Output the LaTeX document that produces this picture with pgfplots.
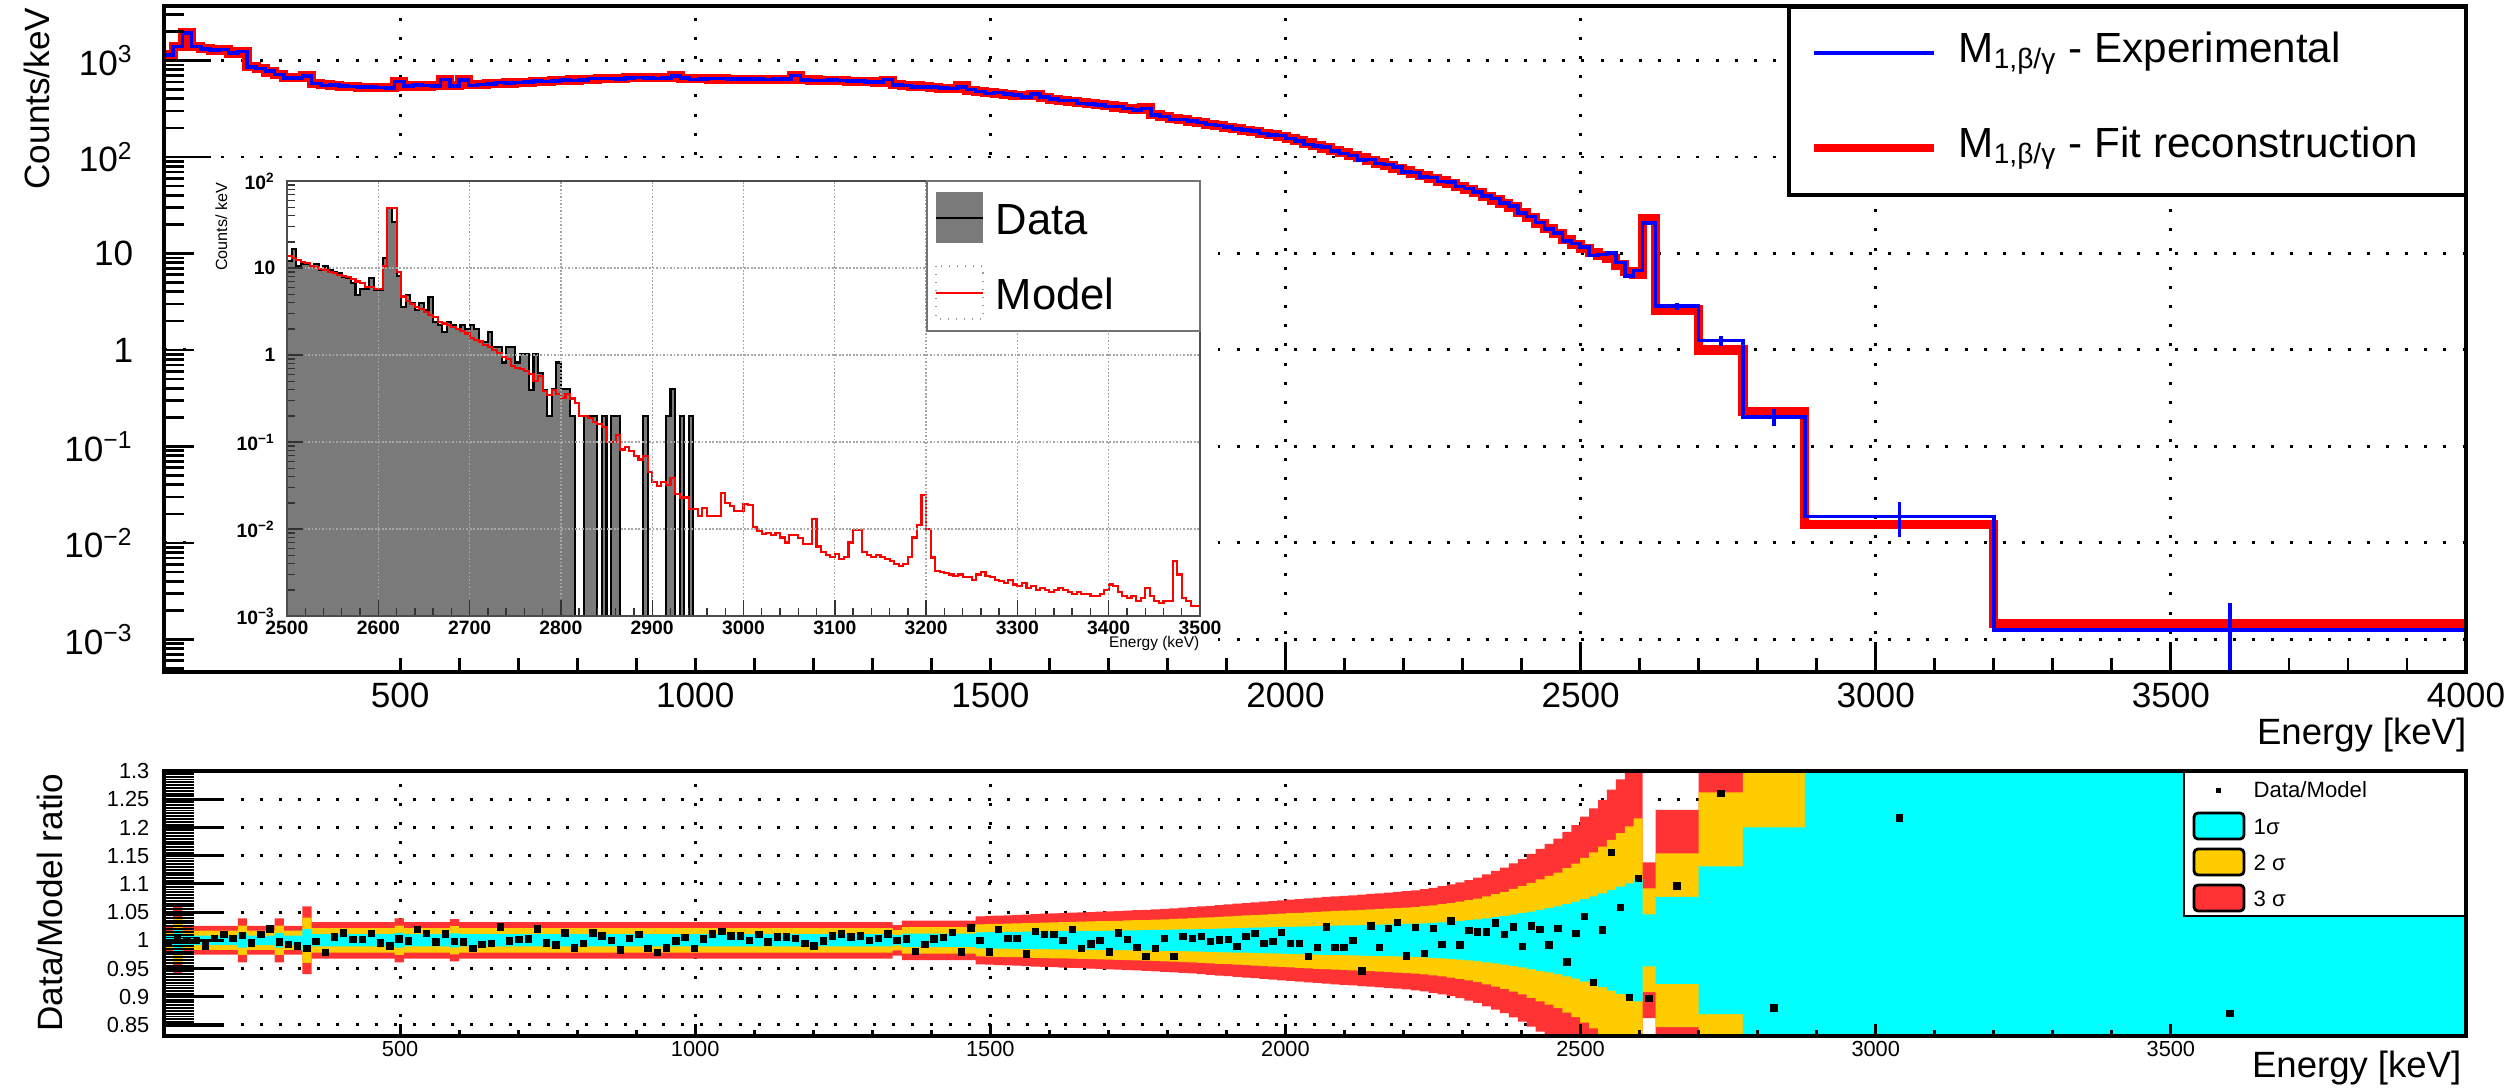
\documentclass[border=0pt]{standalone}
\usepackage{fontspec}
\setmainfont{Liberation Sans}
\usepackage{pgfplots}
\pgfplotsset{compat=1.18}
\usepackage{pgfplotstable}
\usepgfplotslibrary{fillbetween}

\definecolor{expblue}{RGB}{0,0,255}
\definecolor{fitred}{RGB}{255,0,0}
\definecolor{sigone}{RGB}{0,255,255}
\definecolor{sigtwo}{RGB}{255,204,0}
\definecolor{sigthree}{RGB}{255,51,51}
\definecolor{datagray}{RGB}{122,122,122}

\newcommand{\fs}[1]{\fontsize{#1}{#1}\selectfont}

\pgfplotsset{
  dotgrid/.style={grid=major,
    major grid style={black, line width=0.85pt, dash pattern=on 0.85pt off 4.6pt}},
}

% Spectrum bins: lower edge (keV), fitted model (counts/keV),
% data/model ratio and relative 1-sigma uncertainty of the model.
\pgfplotstableread{
E model ratio sig
100.0 1140 0.9955 0.0080
115.6 1390 1.0015 0.0200
131.3 1940 1.0000 0.0085
146.9 1390 1.0000 0.0085
162.5 1330 0.9900 0.0085
178.1 1285 1.0030 0.0085
193.8 1285 1.0100 0.0085
209.4 1190 1.0030 0.0085
225.0 1230 1.0090 0.0130
240.6 863 0.9955 0.0085
256.3 820 1.0100 0.0085
271.9 760 1.0200 0.0085
287.5 720 0.9970 0.0130
303.1 664 0.9930 0.0085
318.8 664 0.9900 0.0085
334.4 700 0.9850 0.0200
350.0 580 0.9980 0.0108
365.6 565 0.9780 0.0108
381.3 555 1.0060 0.0108
396.9 540 1.0130 0.0108
412.5 535 1.0015 0.0108
428.1 530 1.0015 0.0108
443.8 527 1.0120 0.0108
459.4 525 0.9955 0.0108
475.0 526 0.9900 0.0108
490.6 602 1.0025 0.0130
506.3 545 0.9985 0.0108
521.9 545 1.0190 0.0108
537.5 545 1.0120 0.0108
553.1 548 0.9970 0.0108
568.8 628 1.0115 0.0108
584.4 548 0.9980 0.0125
600.0 628 0.9970 0.0108
615.6 560 0.9850 0.0108
631.3 565 0.9930 0.0108
646.9 572 0.9940 0.0108
662.5 578 1.0235 0.0108
678.1 584 0.9985 0.0108
693.8 590 1.0015 0.0108
709.4 595 1.0025 0.0108
725.0 600 1.0200 0.0108
740.6 607 0.9955 0.0108
756.3 615 0.9915 0.0108
771.9 622 1.0130 0.0108
787.5 628 0.9865 0.0108
803.1 634 0.9940 0.0108
818.8 640 1.0130 0.0108
834.4 645 1.0075 0.0108
850.0 650 1.0000 0.0108
865.6 655 0.9825 0.0108
881.3 660 1.0030 0.0108
896.9 663 1.0105 0.0108
912.5 665 0.9850 0.0108
928.1 666 0.9780 0.0108
943.8 667 0.9865 0.0108
959.4 690 0.9985 0.0108
975.0 655 1.0055 0.0108
990.6 648 0.9850 0.0108
1006.3 645 1.0025 0.0108
1021.9 644 1.0115 0.0108
1037.5 643 1.0160 0.0108
1053.1 642 1.0075 0.0108
1068.8 641 1.0075 0.0108
1084.4 640 1.0000 0.0108
1100.0 639 1.0105 0.0108
1115.6 638 0.9970 0.0108
1131.3 637 1.0060 0.0108
1146.9 636 1.0060 0.0108
1162.5 700 1.0030 0.0108
1178.1 632 0.9940 0.0108
1193.8 628 0.9900 0.0108
1209.4 624 0.9985 0.0108
1225.0 620 1.0075 0.0108
1240.6 616 1.0115 0.0108
1256.3 612 1.0060 0.0108
1271.9 607 1.0075 0.0108
1287.5 602 1.0000 0.0108
1303.1 597 1.0030 0.0108
1318.8 625 1.0115 0.0108
1334.4 560 1.0000 0.0090
1350.0 552 1.0024 0.0117
1365.6 545 0.9804 0.0117
1381.3 537 0.9923 0.0117
1396.9 528 1.0020 0.0117
1412.5 518 1.0053 0.0117
1428.1 508 1.0142 0.0117
1443.8 545 0.9792 0.0117
1459.4 490 1.0219 0.0117
1475.0 475 1.0000 0.0142
1490.6 465 0.9792 0.0144
1506.3 456 1.0190 0.0146
1521.9 447 1.0030 0.0148
1537.5 438 1.0030 0.0150
1553.1 430 0.9757 0.0152
1568.8 445 1.0160 0.0155
1584.4 412 1.0100 0.0157
1600.0 396 1.0100 0.0159
1615.6 386 1.0000 0.0161
1631.3 376 1.0190 0.0163
1646.9 366 0.9850 0.0165
1662.5 357 0.9935 0.0167
1678.1 348 1.0000 0.0169
1693.8 339 0.9792 0.0171
1709.4 330 1.0130 0.0173
1725.0 318 1.0012 0.0176
1740.6 310 0.9875 0.0178
1756.3 326 0.9715 0.0180
1771.9 275 0.9850 0.0183
1787.5 262 1.0030 0.0186
1803.1 253 0.9715 0.0189
1818.8 244 1.0071 0.0193
1834.4 235 1.0030 0.0196
1850.0 226.6 1.0064 0.0200
1865.1 218.7 0.9975 0.0204
1880.2 211.1 1.0005 0.0208
1895.3 203.7 1.0017 0.0212
1910.4 196.6 0.9886 0.0216
1925.5 189.7 1.0064 0.0220
1940.6 183.0 1.0117 0.0224
1955.7 176.6 0.9945 0.0228
1970.8 170.4 0.9975 0.0232
1985.9 164.5 1.0135 0.0236
2001.0 156.7 0.9945 0.0240
2016.1 147.8 0.9945 0.0244
2031.2 139.5 0.9708 0.0248
2046.3 131.6 0.9868 0.0252
2061.4 124.1 1.0236 0.0256
2076.5 117.1 0.9868 0.0260
2091.6 110.5 0.9868 0.0263
2106.7 104.2 1.0000 0.0266
2121.8 98.2 0.9453 0.0270
2136.9 92.4 1.0254 0.0274
2152.0 86.8 0.9868 0.0278
2167.1 81.7 1.0206 0.0282
2182.2 76.8 1.0313 0.0286
2197.3 72.2 0.9720 0.0290
2212.4 67.9 1.0224 0.0295
2227.5 63.8 0.9767 0.0302
2242.6 60.0 1.0206 0.0310
2257.7 56.4 0.9928 0.0320
2272.8 53.1 1.0343 0.0330
2287.9 49.9 0.9916 0.0342
2303.0 46.2 1.0177 0.0356
2318.1 42.5 1.0147 0.0370
2333.2 39.0 1.0147 0.0390
2348.3 35.9 1.0310 0.0410
2363.4 33.0 1.0105 0.0430
2378.5 30.3 1.0236 0.0455
2393.6 26.6 0.9886 0.0480
2408.7 23.5 1.0253 0.0510
2423.8 20.6 1.0194 0.0540
2438.9 18.2 0.9920 0.0570
2454.0 16.0 1.0212 0.0600
2469.1 14.0 0.9613 0.0640
2484.2 12.5 1.0117 0.0680
2499.3 11.2 1.0420 0.0730
2514.4 10.3 0.9257 0.0780
2529.5 9.6 1.0182 0.0830
2544.6 8.8 1.1558 0.0890
2559.7 7.6 1.0586 0.0950
2574.8 6.5 0.8990 0.1010
2589.9 6.0 1.1096 0.1080
2605.0 23.2 0.8970 0.0460
2627.0 2.6 1.0960 0.0770
2700.0 1.0 1.2600 0.1310
2775.0 0.23 0.8800 0.2000
2880.0 0.0155 1.2170 0.5000
3200.0 0.00145 0.8700 1.0000
4000.0 0.00145 0.8700 1.0000
}\bins

% Wide bins above 2.6 MeV: centre, data/model, measured rate and its error
\pgfplotstableread{
c ratio exp err
2616.0 0.897 20.8 0.9
2663.5 1.096 2.85 0.25
2737.5 1.260 1.26 0.15
2827.5 0.880 0.202 0.04
3040.0 1.217 0.0189 0.0075
3600.0 0.870 0.00126 0.0011
}\widebins

% Inset: 5 keV data histogram (empty bins as 1e-6)
\pgfplotstableread{
E v
2500 1e-6
2500 12.0
2505 16.4
2510 10.4
2515 11.0
2520 11.0
2525 10.6
2530 11.0
2535 9.6
2540 10.4
2545 9.4
2550 9.0
2555 8.7
2560 7.9
2565 7.6
2570 6.7
2575 4.9
2580 5.8
2585 5.8
2590 7.6
2595 5.6
2600 5.6
2605 12.9
2610 48.5
2615 34.0
2620 8.1
2625 3.6
2630 4.9
2635 4.0
2640 3.3
2645 4.0
2650 3.3
2655 4.6
2660 2.4
2665 2.2
2670 1.82
2675 2.4
2680 2.2
2685 2.0
2690 2.2
2695 2.0
2700 2.2
2705 2.0
2710 1.4
2715 1.4
2720 1.82
2725 1.25
2730 1.25
2735 0.82
2740 1.25
2745 1.25
2750 0.82
2755 1.02
2760 1.02
2765 0.40
2770 1.02
2775 0.62
2780 0.40
2785 0.20
2790 0.41
2795 0.82
2800 0.41
2805 0.41
2810 0.20
2815 1e-6
2820 1e-6
2825 0.20
2830 0.20
2835 0.20
2840 1e-6
2845 0.20
2850 1e-6
2855 0.20
2860 0.20
2865 1e-6
2870 1e-6
2875 1e-6
2880 1e-6
2885 1e-6
2890 0.20
2895 1e-6
2900 1e-6
2905 1e-6
2910 1e-6
2915 0.20
2920 0.41
2925 1e-6
2930 0.20
2935 1e-6
2940 0.20
2945 1e-6
}\insetdata

% Inset: 5 keV model histogram
\pgfplotstableread{
E v
2500 13.7
2505 12.9
2510 12.3
2515 11.7
2520 11.3
2525 10.6
2530 10.2
2535 9.7
2540 9.5
2545 9.1
2550 8.7
2555 8.4
2560 8.1
2565 7.8
2570 7.4
2575 7.0
2580 6.7
2585 6.1
2590 6.0
2595 5.8
2600 5.7
2605 10.4
2610 48.5
2615 48.5
2620 9.1
2625 4.7
2630 4.2
2635 3.9
2640 3.6
2645 3.4
2650 3.1
2655 2.9
2660 2.76
2665 2.4
2670 2.3
2675 2.2
2680 2.1
2685 1.97
2690 1.9
2695 1.77
2700 1.56
2705 1.5
2710 1.43
2715 1.3
2720 1.25
2725 1.14
2730 1.05
2735 0.94
2740 0.89
2745 0.75
2750 0.71
2755 0.69
2760 0.66
2765 0.60
2770 0.50
2775 0.58
2780 0.39
2785 0.35
2790 0.40
2795 0.36
2800 0.32
2805 0.36
2810 0.316
2815 0.28
2820 0.20
2825 0.20
2830 0.19
2835 0.17
2840 0.16
2845 0.15
2850 0.101
2855 0.101
2860 0.12
2865 0.082
2870 0.088
2875 0.078
2880 0.069
2885 0.063
2890 0.069
2895 0.0456
2900 0.035
2905 0.031
2910 0.035
2915 0.032
2920 0.039
2925 0.025
2930 0.023
2935 0.023
2940 0.017
2945 0.017
2950 0.0142
2955 0.0174
2960 0.0142
2965 0.0142
2970 0.0142
2975 0.0258
2980 0.0198
2985 0.0185
2990 0.016
2995 0.016
3000 0.0195
3005 0.019
3010 0.0105
3015 0.0095
3020 0.0088
3025 0.0090
3030 0.0085
3035 0.0090
3040 0.0080
3045 0.0070
3050 0.0085
3055 0.0085
3060 0.0078
3065 0.0068
3070 0.0068
3075 0.0131
3080 0.0063
3085 0.0055
3090 0.0050
3095 0.0048
3100 0.0052
3105 0.0045
3110 0.0048
3115 0.0070
3120 0.0098
3125 0.0098
3130 0.0055
3135 0.0050
3140 0.0048
3145 0.0050
3150 0.0048
3155 0.0045
3160 0.0043
3165 0.0040
3170 0.0038
3175 0.0040
3180 0.0048
3185 0.0080
3190 0.0110
3195 0.0245
3200 0.0100
3205 0.0047
3210 0.0033
3215 0.0032
3220 0.0031
3225 0.0030
3230 0.0029
3235 0.0030
3240 0.0028
3245 0.0028
3250 0.0026
3255 0.0030
3260 0.0032
3265 0.0029
3270 0.0028
3275 0.0026
3280 0.0025
3285 0.0024
3290 0.0026
3295 0.0023
3300 0.0022
3305 0.0024
3310 0.0021
3315 0.0022
3320 0.0020
3325 0.0021
3330 0.0020
3335 0.0019
3340 0.0020
3345 0.0021
3350 0.0020
3355 0.0019
3360 0.0018
3365 0.0019
3370 0.0018
3375 0.0018
3380 0.0017
3385 0.0017
3390 0.0018
3395 0.0020
3400 0.0023
3405 0.0022
3410 0.0019
3415 0.0017
3420 0.0016
3425 0.0017
3430 0.0015
3435 0.0016
3440 0.0021
3445 0.0017
3450 0.0015
3455 0.0014
3460 0.0015
3465 0.0015
3470 0.0043
3475 0.0030
3480 0.0016
3485 0.0015
3490 0.0013
3495 0.0013
3500 0.0013
}\insetmodel

\begin{document}
\begin{tikzpicture}
\path (0,0) rectangle (251.9mm,-109mm);

% ---------------- upper panel: spectrum ----------------
\begin{axis}[
  at={(16.4mm,-0.6mm)}, anchor=north west,
  scale only axis, width=230.2mm, height=66.6mm,
  xmin=100, xmax=4000, ymode=log, ymin=4.6e-4, ymax=3670,
  xtick={500,1000,...,4000},
  xticklabels={500,1000,1500,2000,2500,3000,3500,4000},
  minor x tick num=4,
  ytick={1e-3,1e-2,1e-1,1,10,100,1000},
  yticklabels={10\textsuperscript{−3},10\textsuperscript{−2},10\textsuperscript{−1},1,10,10\textsuperscript{2},10\textsuperscript{3}},
  ytick style={draw=none},
  tick align=inside, tick pos=left,
  major tick length=3mm, minor tick length=1.4mm,
  every tick/.append style={black, line width=0.8pt},
  dotgrid,
  axis line style={line width=1pt},
  xticklabel style={font=\fs{10}, inner sep=0pt, anchor=north, yshift=-1.0mm},
  yticklabel style={font=\fs{10}, inner sep=0pt, anchor=east, xshift=-3mm},
]
\addplot[fitred, line width=2.6pt, const plot] table[x=E, y=model] {\bins};
\addplot[expblue, line width=1pt, const plot]
  table[x=E, y expr=\thisrow{model}*\thisrow{ratio}] {\bins};
\addplot[draw=none, mark=none,
  error bars/.cd, y dir=both, y explicit, error mark=none,
  error bar style={draw=expblue, line width=1pt, solid}]
  table[x=c, y=exp, y error=err] {\widebins};
\end{axis}
% long y ticks of the upper panel
\begin{axis}[
  at={(16.4mm,-0.6mm)}, anchor=north west,
  scale only axis, width=230.2mm, height=66.6mm,
  xmin=100, xmax=4000, ymode=log, ymin=4.6e-4, ymax=3670,
  xtick=\empty, ytick={1e-3,1e-2,1e-1,1,10,100,1000}, yticklabels={},
  minor ytick={5e-4,6e-4,7e-4,8e-4,9e-4,2e-3,3e-3,4e-3,5e-3,6e-3,7e-3,8e-3,9e-3,
    0.02,0.03,0.04,0.05,0.06,0.07,0.08,0.09,0.2,0.3,0.4,0.5,0.6,0.7,0.8,0.9,
    2,3,4,5,6,7,8,9,20,30,40,50,60,70,80,90,200,300,400,500,600,700,800,900,2000,3000},
  tick align=inside, tick pos=left,
  major tick length=4.7mm, minor tick length=2mm,
  every tick/.append style={black, line width=0.8pt},
  axis line style={line width=1pt},
]
\end{axis}

% legend of the upper panel
\draw[line width=0.9pt, fill=white] (178.9mm,-0.7mm) rectangle (246.6mm,-19.5mm);
\draw[expblue, line width=0.9pt] (181.4mm,-5.3mm) -- (193.4mm,-5.3mm);
\node[anchor=base west, inner sep=0pt, font=\fs{12}] at (195.8mm,-6.2mm)
  {M\textsubscript{1,β/γ} - Experimental};
\draw[fitred, line width=2.2pt] (181.4mm,-14.8mm) -- (193.4mm,-14.8mm);
\node[anchor=base west, inner sep=0pt, font=\fs{12}] at (195.8mm,-15.7mm)
  {M\textsubscript{1,β/γ} - Fit reconstruction};

\node[rotate=90, anchor=base east, inner sep=0pt, font=\fs{10}] at (4.9mm,-0.7mm) {Counts/keV};
\node[anchor=base east, inner sep=0pt, font=\fs{10.4}] at (246.7mm,-74.4mm) {Energy [keV]};

% ---------------- inset: 2.5-3.5 MeV detail ----------------
\fill[white] (19.4mm,-16.5mm) rectangle (121.8mm,-65.8mm);
\begin{axis}[
  at={(28.7mm,-18.1mm)}, anchor=north west,
  scale only axis, width=91.3mm, height=43.5mm,
  xmin=2500, xmax=3500, ymode=log, ymin=1e-3, ymax=100,
  xtick={2500,2600,...,3500},
  xticklabels={2500,2600,2700,2800,2900,3000,3100,3200,3300,3400,3500},
  minor x tick num=4,
  ytick={1e-3,1e-2,1e-1,1,10,100},
  yticklabels={10\textsuperscript{−3},10\textsuperscript{−2},10\textsuperscript{−1},1,10,10\textsuperscript{2}},
  minor ytick={2e-3,3e-3,4e-3,5e-3,6e-3,7e-3,8e-3,9e-3,
    0.02,0.03,0.04,0.05,0.06,0.07,0.08,0.09,0.2,0.3,0.4,0.5,0.6,0.7,0.8,0.9,
    2,3,4,5,6,7,8,9,20,30,40,50,60,70,80,90},
  tick align=inside, tick pos=left,
  major tick length=1.6mm, minor tick length=0.8mm,
  every tick/.append style={black!80, line width=0.4pt},
  grid=major, major grid style={black!35, line width=0.35pt, dash pattern=on 0.5pt off 0.5pt},
  axis line style={black!70, line width=0.5pt},
  axis on top,
  xticklabel style={font=\fs{5.5}\bfseries, inner sep=0pt, anchor=north, yshift=-0.4mm},
  yticklabel style={font=\fs{5.5}\bfseries, inner sep=0pt, anchor=east, xshift=-1.1mm},
]
\addplot[fill=datagray, draw=black, line width=0.6pt, const plot] table[x=E, y=v] {\insetdata};
\addplot[fitred, line width=0.6pt, const plot] table[x=E, y=v] {\insetmodel};
\end{axis}
\draw[black!55, line width=0.4pt, fill=white] (92.7mm,-18.1mm) rectangle (120.0mm,-33.1mm);
\fill[datagray] (93.6mm,-19.2mm) rectangle (98.3mm,-24.3mm);
\draw[black, line width=0.6pt] (93.6mm,-21.8mm) -- (98.3mm,-21.8mm);
\node[anchor=base west, inner sep=0pt, font=\fs{12.4}] at (99.5mm,-23.4mm) {Data};
\draw[black!40, line width=0.3pt, dotted] (93.6mm,-26.6mm) rectangle (98.3mm,-31.9mm);
\draw[fitred, line width=0.6pt] (93.6mm,-29.3mm) -- (98.3mm,-29.3mm);
\node[anchor=base west, inner sep=0pt, font=\fs{12.4}] at (99.5mm,-30.9mm) {Model};
\node[rotate=90, anchor=base east, inner sep=0pt, font=\fs{4.6}] at (22.7mm,-18.2mm) {Counts/ keV};
\node[anchor=base east, inner sep=0pt, font=\fs{4.4}] at (120.0mm,-64.7mm) {Energy (keV)};

% ---------------- lower panel: data/model ratio ----------------
\begin{axis}[
  at={(16.4mm,-77.1mm)}, anchor=north west,
  scale only axis, width=230.2mm, height=26.5mm,
  xmin=100, xmax=4000, ymin=0.8304, ymax=1.3,
  xtick={500,1000,...,3500},
  xticklabels={500,1000,1500,2000,2500,3000,3500},
  ytick={0.85,0.9,0.95,1,1.05,1.1,1.15,1.2,1.25,1.3},
  yticklabels={0.85,0.9,0.95,1,1.05,1.1,1.15,1.2,1.25,1.3},
  xtick style={draw=none}, ytick style={draw=none},
  dotgrid,
  axis line style={line width=1pt},
  xticklabel style={font=\fs{6.2}, inner sep=0pt, anchor=north, yshift=-0.5mm},
  yticklabel style={font=\fs{6.2}, inner sep=0pt, anchor=east, xshift=-1.4mm},
]
\addplot[draw=none, name path=u3, const plot] table[x=E, y expr=1+3*\thisrow{sig}] {\bins};
\addplot[draw=none, name path=l3, const plot] table[x=E, y expr=1-3*\thisrow{sig}] {\bins};
\addplot[draw=none, name path=u2, const plot] table[x=E, y expr=1+2*\thisrow{sig}] {\bins};
\addplot[draw=none, name path=l2, const plot] table[x=E, y expr=1-2*\thisrow{sig}] {\bins};
\addplot[draw=none, name path=u1, const plot] table[x=E, y expr=1+\thisrow{sig}] {\bins};
\addplot[draw=none, name path=l1, const plot] table[x=E, y expr=1-\thisrow{sig}] {\bins};
\addplot[fill=sigthree, draw=none] fill between[of=u3 and l3];
\addplot[fill=sigtwo, draw=none] fill between[of=u2 and l2];
\addplot[fill=sigone, draw=none] fill between[of=u1 and l1];
\addplot[black, only marks, mark=square*, mark size=0.3mm]
  table[x expr=\thisrow{E}+7.7, y=ratio, restrict x to domain=100:2600] {\bins};
\addplot[black, only marks, mark=square*, mark size=0.3mm] table[x=c, y=ratio] {\widebins};
\end{axis}
% tick marks of the lower panel drawn over the bands
\begin{axis}[
  at={(16.4mm,-77.1mm)}, anchor=north west,
  scale only axis, width=230.2mm, height=26.5mm,
  xmin=100, xmax=4000, ymin=0.8304, ymax=1.3,
  xtick=\empty, ytick={0.85,0.9,0.95,1,1.05,1.1,1.15,1.2,1.25,1.3}, yticklabels={},
  minor y tick num=9,
  tick align=inside, tick pos=left,
  major tick length=6mm, minor tick length=3mm,
  every tick/.append style={black, line width=0.55pt},
  every major tick/.append style={line width=0.9pt},
  axis line style={line width=1pt},
]
\end{axis}
\begin{axis}[
  at={(16.4mm,-77.1mm)}, anchor=north west,
  scale only axis, width=230.2mm, height=26.5mm,
  xmin=100, xmax=4000, ymin=0.8304, ymax=1.3,
  ytick=\empty, xtick={500,1000,...,3500}, xticklabels={},
  minor x tick num=4,
  tick align=inside, tick pos=left,
  major tick length=1.2mm, minor tick length=0.6mm,
  every tick/.append style={black, line width=0.8pt},
  axis line style={line width=1pt},
]
\end{axis}

% legend of the lower panel
\draw[line width=0.8pt, fill=white] (218.4mm,-77.2mm) rectangle (246.5mm,-91.6mm);
\fill[black] (221.6mm,-78.75mm) rectangle (222.1mm,-79.25mm);
\node[anchor=west, inner sep=0pt, font=\fs{6.3}] at (225.3mm,-79.0mm) {Data/Model};
\draw[line width=0.8pt, fill=sigone, rounded corners=0.4mm] (219.4mm,-81.3mm) rectangle (224.4mm,-83.9mm);
\node[anchor=west, inner sep=0pt, font=\fs{6.3}] at (225.3mm,-82.7mm) {1σ};
\draw[line width=0.8pt, fill=sigtwo, rounded corners=0.4mm] (219.4mm,-84.9mm) rectangle (224.4mm,-87.5mm);
\node[anchor=west, inner sep=0pt, font=\fs{6.3}] at (225.3mm,-86.3mm) {2 σ};
\draw[line width=0.8pt, fill=sigthree, rounded corners=0.4mm] (219.4mm,-88.5mm) rectangle (224.4mm,-91.1mm);
\node[anchor=west, inner sep=0pt, font=\fs{6.3}] at (225.3mm,-89.9mm) {3 σ};

\node[rotate=90, anchor=base east, inner sep=0pt, font=\fs{10}] at (6.3mm,-77.3mm) {Data/Model ratio};
\node[anchor=base east, inner sep=0pt, font=\fs{10.4}] at (246.2mm,-107.7mm) {Energy [keV]};

\pgfresetboundingbox
\path[use as bounding box] (0,0) rectangle (251.9mm,-109mm);
\end{tikzpicture}
\end{document}
